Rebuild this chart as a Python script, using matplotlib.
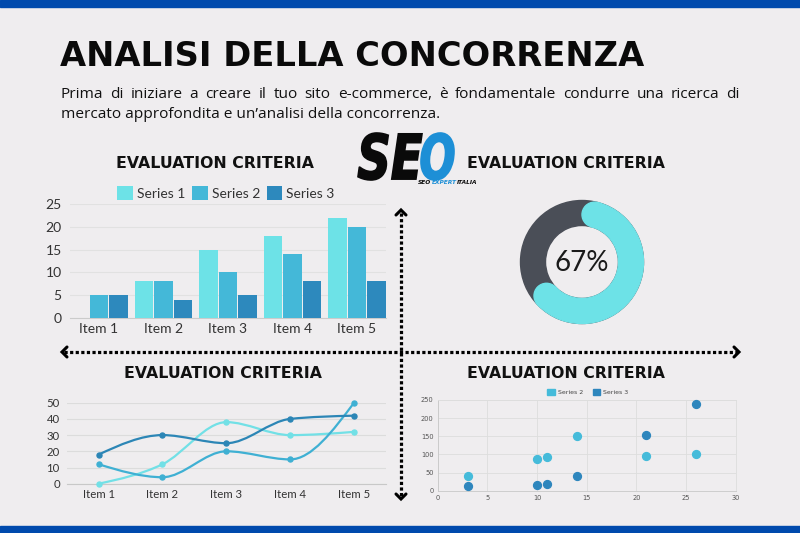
import numpy as np
import matplotlib
matplotlib.use("Agg")
import matplotlib.pyplot as plt
from matplotlib.patches import Wedge, Circle, Patch, PathPatch, Rectangle
from matplotlib.path import Path
from matplotlib.textpath import TextPath
from matplotlib.font_manager import FontProperties
from matplotlib.transforms import Affine2D

# ---- data
items = ["Item 1", "Item 2", "Item 3", "Item 4", "Item 5"]
bar_labels = ["Series 1", "Series 2", "Series 3"]
bar_s1 = [0, 8, 15, 18, 22]
bar_s2 = [5, 8, 10, 14, 20]
bar_s3 = [5, 4, 5, 8, 8]

line_s1 = [0, 12, 38, 30, 32]
line_s2 = [12, 4, 20, 15, 50]
line_s3 = [18, 30, 25, 40, 42]

donut_pct = 67

scatter_x = [3, 10, 11, 14, 21, 26]
scatter_s2 = [40, 88, 92, 150, 95, 100]
scatter_s3 = [12, 15, 18, 40, 153, 240]
scatter_labels = ["Series 2", "Series 3"]

title = "ANALISI DELLA CONCORRENZA"
intro_1 = "Prima di iniziare a creare il tuo sito e-commerce, è fondamentale condurre una ricerca di"
intro_2 = "mercato approfondita e un’analisi della concorrenza."
section = "EVALUATION CRITERIA"

# ---- style
BG = "#EFEDEF"
BLUE_BAR = "#004AAD"
C1, C2, C3 = "#6DE2E7", "#44B8D8", "#2D89BD"
DONUT_DARK = "#4A4E57"
LOGO_BLUE = "#1D8FD6"
HEAVY = "DejaVu Sans"
SANS = ["Lato", "DejaVu Sans"]

W, H = 800, 533
fig = plt.figure(figsize=(W / 100, H / 100), dpi=100, facecolor=BG)


def rect(x0, y0, x1, y1):
    # pixel box (top-left origin) -> figure fraction
    return [x0 / W, 1 - y1 / H, (x1 - x0) / W, (y1 - y0) / H]


# full-figure overlay in pixel units, y pointing down
bg = fig.add_axes([0, 0, 1, 1])
bg.set_xlim(0, W)
bg.set_ylim(H, 0)
bg.axis("off")
bg.set_zorder(0)

bg.add_patch(Rectangle((0, 0), W, 7, color=BLUE_BAR))
bg.add_patch(Rectangle((0, 526), W, 7, color=BLUE_BAR))

fig.canvas.draw()
renderer = fig.canvas.get_renderer()


def fit_width(t, target):
    bb = t.get_window_extent(renderer)
    t.set_fontsize(t.get_fontsize() * target / bb.width)


# title + intro
t = bg.text(60, 65.7, title, fontsize=25, family=HEAVY, weight="bold",
            color="#0A0A0A", ha="left", va="baseline")
fit_width(t, 585)

words = intro_1.split(" ")
wtexts = [bg.text(0, 97.7, w, fontsize=11.1, family=["Open Sans", "DejaVu Sans"],
                  color="#111111", ha="left", va="baseline") for w in words]
widths = [wt.get_window_extent(renderer).width for wt in wtexts]
gap = (740 - 60.7 - sum(widths)) / (len(words) - 1)
xpos = 60.7
for wt, wd in zip(wtexts, widths):
    wt.set_x(xpos)
    xpos += wd + gap
bg.text(60.7, 117.5, intro_2, fontsize=11.1, family=["Open Sans", "DejaVu Sans"],
        color="#111111", ha="left", va="baseline")

# section headers
for cx, cy in [(215.5, 163), (566, 163), (223, 374), (566, 374)]:
    s = bg.text(cx, cy, section, fontsize=11, family=HEAVY, weight="bold",
                color="#111111", ha="center", va="center")
    fit_width(s, 196)

# ---- logo
fp = FontProperties(family="DejaVu Sans", weight="bold", style="italic")


def logo_part(txt, box, color):
    tp = TextPath((0, 0), txt, size=100, prop=fp)
    ext = tp.get_extents()
    x0, y0, x1, y1 = box
    tr = (Affine2D().translate(-ext.x0, -ext.y0)
          .scale((x1 - x0) / ext.width, -(y1 - y0) / ext.height)
          .translate(x0, y1))
    bg.add_patch(PathPatch(tr.transform_path(tp), color=color, lw=1.2))


logo_part("SE", (358, 133, 422, 180), "#0A0A0A")
logo_part("O", (421, 133, 454, 180), LOGO_BLUE)
lx = 418
for part, col in [("SEO", "#0A0A0A"), ("EXPERT", LOGO_BLUE), ("ITALIA", "#0A0A0A")]:
    pt = bg.text(lx, 183, part, fontsize=4.2, family="DejaVu Sans", weight="bold",
                 style="italic", color=col, ha="left", va="center")
    lx += pt.get_window_extent(renderer).width + 0.5

# ---- dotted arrows
dot = dict(color="black", lw=2.3, ls=(0, (1, 0.75)), dash_capstyle="butt")
bg.plot([401, 401], [213, 497], **dot)
bg.plot([64, 737], [352, 352], **dot)
head = dict(color="black", lw=2.2, solid_capstyle="round", solid_joinstyle="miter")
bg.plot([396, 401, 406], [215, 210, 215], **head)
bg.plot([396, 401, 406], [494, 499, 494], **head)
bg.plot([67, 62, 67], [347, 352, 357], **head)
bg.plot([734, 739, 734], [347, 352, 357], **head)

# ---- donut
cx, cy, R, w = 582, 262, 61.5, 25
rm = R - w / 2
bg.add_patch(Wedge((cx, cy), R, 0, 360, width=w, color=DONUT_DARK))
delta = np.degrees(np.arcsin((w / 2) / rm))
th1 = -90 + delta
th2 = -90 + 360 * donut_pct / 100 - delta
bg.add_patch(Wedge((cx, cy), R, th1, th2, width=w, color=C1))
for th in (th1, th2):
    bg.add_patch(Circle((cx + rm * np.cos(np.radians(th)), cy + rm * np.sin(np.radians(th))),
                        w / 2, color=C1))
bg.text(cx, cy + 1, f"{donut_pct}%", fontsize=20, family=SANS,
        color="#1A1A1A", ha="center", va="center")

# ---- bar chart
x = np.arange(len(items))
ax1 = fig.add_axes(rect(70, 204.3, 386, 317.7))
ax1.patch.set_alpha(0)
for off, vals, col, lab in zip([-0.3, 0, 0.3], [bar_s1, bar_s2, bar_s3], [C1, C2, C3], bar_labels):
    ax1.bar(x + off, vals, 0.285, color=col, label=lab, zorder=3)
ax1.set_xlim(-0.45, 4.45)
ax1.set_ylim(0, 25)
ax1.set_yticks(range(0, 26, 5))
ax1.set_xticks(x, items)
ax1.grid(axis="y", color="#E1E1E1", lw=0.8, zorder=0)
for sp in ["top", "right", "left"]:
    ax1.spines[sp].set_visible(False)
ax1.spines["bottom"].set_color("#CBCBCB")
ax1.tick_params(axis="y", length=0, labelsize=10, colors="#333333", pad=6)
ax1.tick_params(axis="x", length=0, labelsize=10, colors="#333333", pad=4)
for lbl in ax1.get_xticklabels() + ax1.get_yticklabels():
    lbl.set_family(SANS)
leg = ax1.legend(loc="center", bbox_to_anchor=(0.494, 1.1), ncol=3, frameon=False,
                 fontsize=10, handlelength=1.1, handleheight=1.1, handletextpad=0.3,
                 columnspacing=0.5, borderaxespad=0)
for lt in leg.get_texts():
    lt.set_color("#333333")
    lt.set_family(SANS)

# ---- smooth line chart (monotone cubic through the points)
def monotone_path(xs, ys):
    xs = np.asarray(xs, float)
    ys = np.asarray(ys, float)
    h = np.diff(xs)
    s = np.diff(ys) / h
    m = np.zeros(len(xs))
    for i in range(1, len(xs) - 1):
        if s[i - 1] * s[i] > 0:
            p = (s[i - 1] * h[i] + s[i] * h[i - 1]) / (h[i - 1] + h[i])
            m[i] = (np.sign(s[i - 1]) + np.sign(s[i])) * min(abs(s[i - 1]), abs(s[i]), 0.5 * abs(p))
    m[0] = (3 * s[0] - m[1]) / 2
    m[-1] = (3 * s[-1] - m[-2]) / 2
    verts = [(xs[0], ys[0])]
    codes = [Path.MOVETO]
    for i in range(len(xs) - 1):
        d = h[i] / 3
        verts += [(xs[i] + d, ys[i] + d * m[i]), (xs[i + 1] - d, ys[i + 1] - d * m[i + 1]),
                  (xs[i + 1], ys[i + 1])]
        codes += [Path.CURVE4] * 3
    return Path(verts, codes)


ax2 = fig.add_axes(rect(66.7, 402.7, 386, 483.7))
ax2.patch.set_alpha(0)
for vals, col in [(line_s1, "#72E0E6"), (line_s2, "#3FB0D3"), (line_s3, "#2C86B6")]:
    ax2.add_patch(PathPatch(monotone_path(x, vals), fill=False, edgecolor=col, lw=1.6,
                            zorder=3, clip_on=False))
    ax2.plot(x, vals, "o", ms=3.6, color=col, zorder=4, clip_on=False)
ax2.set_xlim(-0.5, 4.5)
ax2.set_ylim(0, 50)
ax2.set_yticks(range(0, 51, 10))
ax2.set_xticks(x, items)
ax2.grid(axis="y", color="#DCDCDC", lw=0.8, zorder=0)
for sp in ["top", "right", "left"]:
    ax2.spines[sp].set_visible(False)
ax2.spines["bottom"].set_color("#C8C8C8")
ax2.tick_params(axis="y", length=0, labelsize=8.2, colors="#333333", pad=5)
ax2.tick_params(axis="x", length=0, labelsize=8.2, colors="#333333", pad=4)
for lbl in ax2.get_xticklabels() + ax2.get_yticklabels():
    lbl.set_family(SANS)

# ---- scatter
ax3 = fig.add_axes(rect(437.7, 400, 735.7, 490.7))
ax3.patch.set_alpha(0)
ax3.scatter(scatter_x, scatter_s2, s=32, color="#45BBDA", zorder=3, clip_on=False)
ax3.scatter(scatter_x, scatter_s3, s=32, color="#2E86BD", zorder=3, clip_on=False)
ax3.set_xlim(0, 30)
ax3.set_ylim(0, 250)
ax3.set_xticks(range(0, 31, 5))
ax3.set_yticks(range(0, 251, 50))
ax3.grid(color="#DDDDDD", lw=0.6, zorder=0)
for sp in ax3.spines.values():
    sp.set_color("#DDDDDD")
    sp.set_linewidth(0.6)
ax3.spines["left"].set_color("#C8C8C8")
ax3.spines["bottom"].set_color("#C8C8C8")
ax3.tick_params(length=0, labelsize=4.8, colors="#555555", pad=3)
handles = [Patch(color="#45BBDA"), Patch(color="#2E86BD")]
leg3 = ax3.legend(handles, scatter_labels, loc="center", bbox_to_anchor=(0.504, 1.09),
                  ncol=2, frameon=False, fontsize=4.5, handlelength=1.2, handleheight=1.2,
                  handletextpad=0.5, columnspacing=1.5, borderaxespad=0)
for lt in leg3.get_texts():
    lt.set_color("#444444")

fig.savefig("out.png", dpi=100, facecolor=BG)
